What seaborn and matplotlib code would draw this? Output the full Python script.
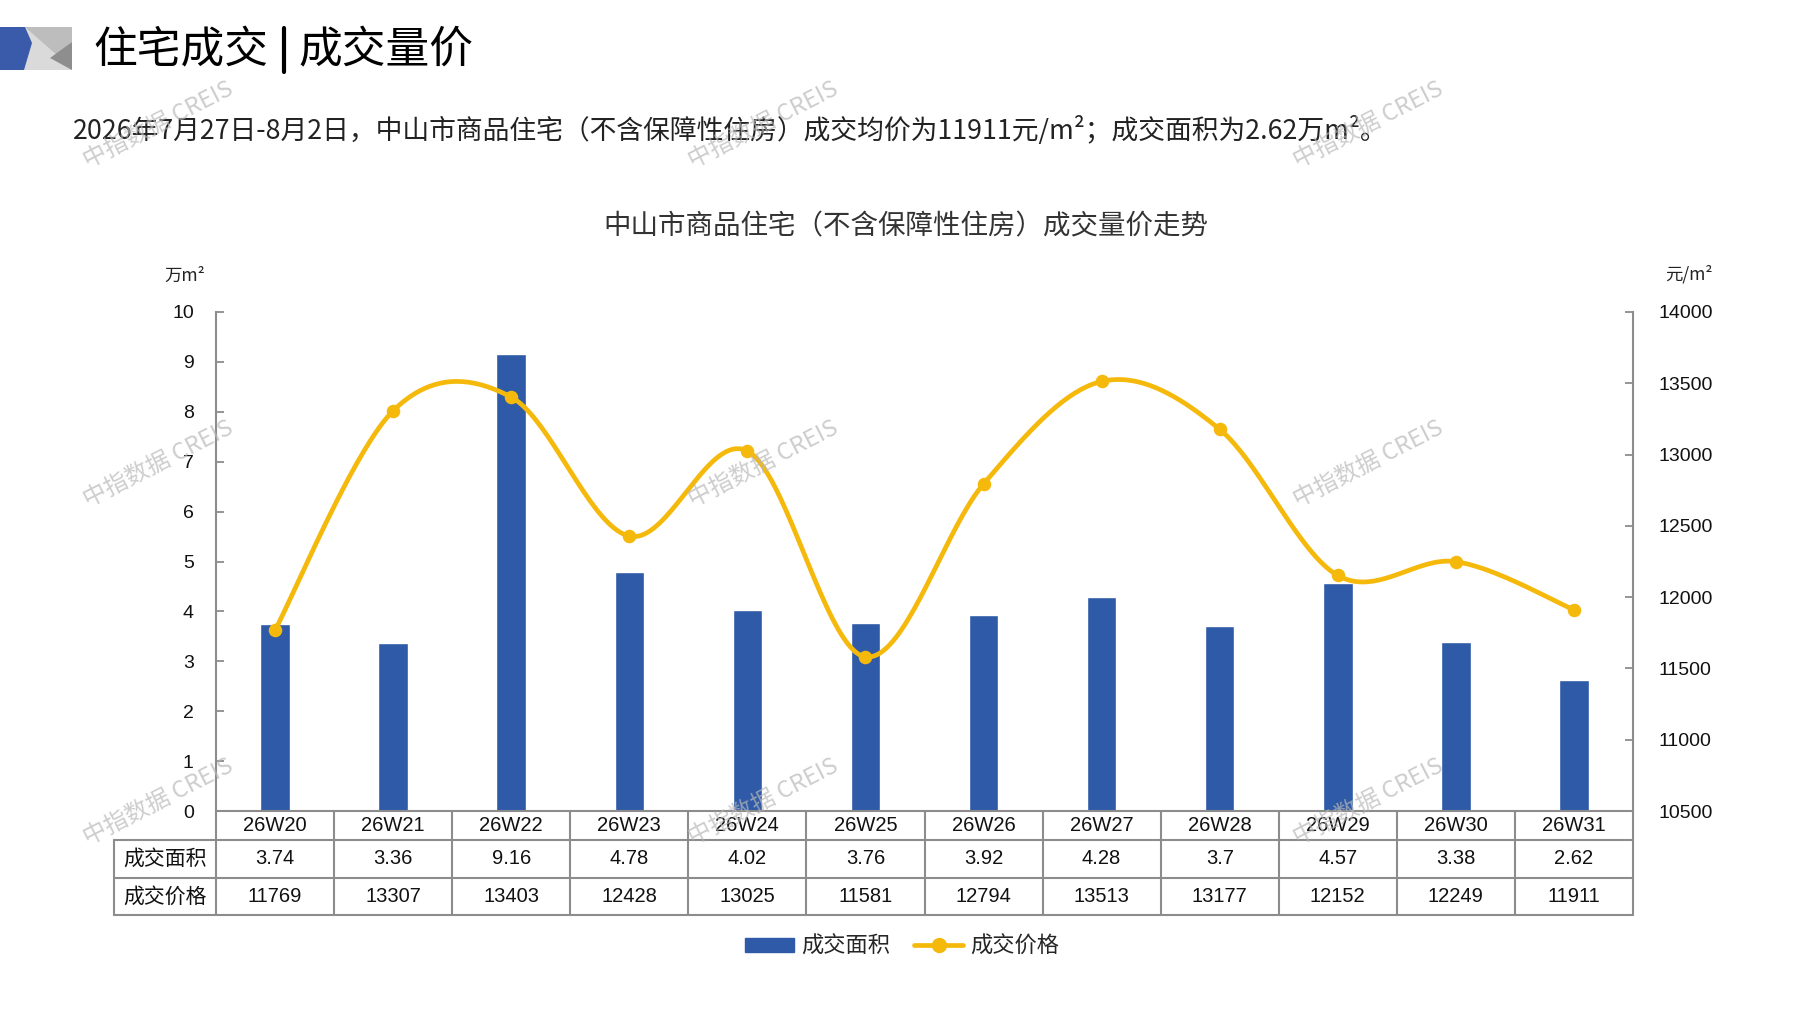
import numpy as np
import pandas as pd
import matplotlib
matplotlib.use("Agg")
import matplotlib.pyplot as plt
import matplotlib.transforms as mtransforms
from matplotlib.patches import Polygon, Rectangle, Patch
from matplotlib.lines import Line2D
import seaborn as sns

# ---------------- data ----------------
weeks = ["26W20", "26W21", "26W22", "26W23", "26W24", "26W25",
         "26W26", "26W27", "26W28", "26W29", "26W30", "26W31"]
area = [3.74, 3.36, 9.16, 4.78, 4.02, 3.76, 3.92, 4.28, 3.7, 4.57, 3.38, 2.62]
price = [11769, 13307, 13403, 12428, 13025, 11581, 12794, 13513, 13177, 12152, 12249, 11911]
row_labels = ["成交面积", "成交价格"]
series_names = ["成交面积", "成交价格"]
left_ticks = list(range(0, 11))
right_ticks = list(range(10500, 14001, 500))

BLUE = "#2E5AA7"
GOLD = "#F5B90C"
GRAY = "#8C8C8C"

sns.set_theme(style="white")
plt.rcParams["font.family"] = ["Noto Sans CJK SC", "DejaVu Sans"]

W, H = 1797, 1010
fig = plt.figure(figsize=(W / 100, H / 100), dpi=100)
fig.patch.set_facecolor("white")


def fx(px):
    return px / W


def fy(py):
    return 1 - py / H


# ---------------- header ----------------
icon = fig.add_axes([0, fy(70), fx(72), (70 - 27) / H])
icon.set_xlim(0, 72)
icon.set_ylim(70, 27)
icon.axis("off")
icon.add_patch(Rectangle((0, 27), 72, 43, color="#DADADA", lw=0))
icon.add_patch(Polygon([(25, 27), (72, 27), (72, 42), (58, 56)], closed=True, color="#BDBDBD", lw=0))
icon.add_patch(Polygon([(72, 42), (72, 70), (50, 58)], closed=True, color="#8E8E8E", lw=0))
icon.add_patch(Polygon([(0, 27), (25, 27), (32, 43), (24, 70), (0, 70)], closed=True, color="#3A5BA9", lw=0))

fig.text(fx(93), fy(50), "住宅成交", fontsize=31.5, color="black", va="center", ha="left")
fig.add_artist(Line2D([fx(284), fx(284)], [fy(28), fy(72)], color="black", lw=3))
fig.text(fx(298), fy(50), "成交量价", fontsize=31.5, color="black", va="center", ha="left")
fig.text(fx(73), fy(131),
         "2026年7月27日-8月2日，中山市商品住宅（不含保障性住房）成交均价为11911元/m²；成交面积为2.62万m²。",
         fontsize=19.3, color="#222222", va="center", ha="left")
fig.text(fx(906), fy(227), "中山市商品住宅（不含保障性住房）成交量价走势",
         fontsize=19.8, color="#333333", va="center", ha="center")

# ---------------- main axes ----------------
ax = fig.add_axes([fx(216), fy(811), (1633 - 216) / W, (811 - 312) / H])
df = pd.DataFrame({"week": weeks, "area": area, "price": price})
sns.barplot(data=df, x="week", y="area", color=BLUE, saturation=1, width=0.25, ax=ax, zorder=2)
ax.set_xlim(-0.5, len(weeks) - 0.5)
ax.set_ylim(0, 10)
ax.set_yticks(left_ticks)
ax.set_yticklabels([str(t) for t in left_ticks], fontfamily="Liberation Sans", fontsize=14, color="#111111")
ax.set_xlabel("")
ax.set_ylabel("")
ax.tick_params(axis="x", length=0, labelbottom=False)
ax.tick_params(axis="y", direction="in", length=6, width=1.3, color=GRAY, pad=16)
for s in ["top", "right", "bottom"]:
    ax.spines[s].set_visible(False)
ax.spines["left"].set_color(GRAY)
ax.spines["left"].set_linewidth(1.5)
ax.grid(False)
ax.set_facecolor("none")

ax2 = ax.twinx()
ax2.set_ylim(10500, 14000)
ax2.set_yticks(right_ticks)
ax2.set_yticklabels([str(t) for t in right_ticks], fontfamily="Liberation Sans", fontsize=14, color="#111111")
ax2.tick_params(axis="y", direction="in", length=6, width=1.3, color=GRAY, pad=18)
for s in ["top", "left", "bottom"]:
    ax2.spines[s].set_visible(False)
ax2.spines["right"].set_color(GRAY)
ax2.spines["right"].set_linewidth(1.5)
ax2.grid(False)

# smooth (Excel-like Catmull-Rom) rendering of the price series
xp = np.arange(len(price), dtype=float)
yp = np.array(price, dtype=float)
P = np.column_stack([xp, yp])
Pext = np.vstack([P[0], P, P[-1]])
curve = []
tt = np.linspace(0, 1, 40)
for i in range(1, len(Pext) - 2):
    p0, p1, p2, p3 = Pext[i - 1], Pext[i], Pext[i + 1], Pext[i + 2]
    c1 = p1 + (p2 - p0) / 6
    c2 = p2 - (p3 - p1) / 6
    seg = ((1 - tt) ** 3)[:, None] * p1 + (3 * (1 - tt) ** 2 * tt)[:, None] * c1 \
        + (3 * (1 - tt) * tt ** 2)[:, None] * c2 + (tt ** 3)[:, None] * p2
    curve.append(seg if i == 1 else seg[1:])
curve = np.vstack(curve)
ax2.plot(curve[:, 0], curve[:, 1], color=GOLD, lw=3.4, zorder=3, solid_capstyle="round")
sns.scatterplot(x=xp, y=yp, ax=ax2, s=95, color=GOLD, edgecolor=GOLD, linewidth=0, zorder=4, legend=False)
ax2.set_xlim(-0.5, len(weeks) - 0.5)

# unit labels
fig.text(fx(185), fy(276), "万m²", fontsize=12.5, ha="center", va="center", color="#222222")
fig.text(fx(1689), fy(274), "元/m²", fontsize=12.5, ha="center", va="center", color="#222222")

# ---------------- data table under the axis ----------------
tr = mtransforms.blended_transform_factory(ax.transData, fig.transFigure)
colw_px = (1633 - 216) / len(weeks)
x_left = -0.5 - (216 - 114) / colw_px
x_right = len(weeks) - 0.5
y_rows = [811, 840, 878, 915]
lw_t = 1.5


def hline(x0, x1, ypx):
    fig.add_artist(Line2D([x0, x1], [fy(ypx), fy(ypx)], transform=tr, color=GRAY, lw=lw_t))


def vline(x, y0, y1):
    fig.add_artist(Line2D([x, x], [fy(y0), fy(y1)], transform=tr, color=GRAY, lw=lw_t))


hline(-0.5, x_right, 811)
for yy in y_rows[1:]:
    hline(x_left, x_right, yy)
vline(x_left, 840, 915)
for k in range(len(weeks) + 1):
    vline(-0.5 + k, 811, 915)

yc = [(y_rows[i] + y_rows[i + 1]) / 2 for i in range(3)]
for i, w in enumerate(weeks):
    fig.text(i, fy(yc[0]), w, transform=tr, ha="center", va="center",
             fontfamily="Liberation Sans", fontsize=14.5, color="#111111")
    fig.text(i, fy(yc[1]), str(area[i]), transform=tr, ha="center", va="center",
             fontfamily="Liberation Sans", fontsize=14.5, color="#111111")
    fig.text(i, fy(yc[2]), str(price[i]), transform=tr, ha="center", va="center",
             fontfamily="Liberation Sans", fontsize=14.5, color="#111111")
for j, lab in enumerate(row_labels):
    fig.text((x_left - 0.5) / 2, fy(yc[j + 1]), lab, transform=tr, ha="center", va="center",
             fontsize=15, color="#111111")

# ---------------- legend ----------------
handles = [Patch(facecolor=BLUE, edgecolor=BLUE),
           Line2D([], [], color=GOLD, lw=3.4, marker="o", markersize=10)]
leg = fig.legend(handles, series_names, loc="center", bbox_to_anchor=(fx(902), fy(946)),
                 ncol=2, frameon=False, fontsize=16, handlelength=2.2, handleheight=0.6,
                 handletextpad=0.3, columnspacing=1.1)

# ---------------- watermarks ----------------
for wx in [158, 763, 1368]:
    for wy in [125, 464, 802]:
        fig.text(fx(wx), fy(wy), "中指数据 CREIS", fontsize=17, color="#B8B8B8", alpha=0.7,
                 rotation=27, ha="center", va="center", zorder=10)

fig.savefig("out.png", dpi=100, facecolor="white")
